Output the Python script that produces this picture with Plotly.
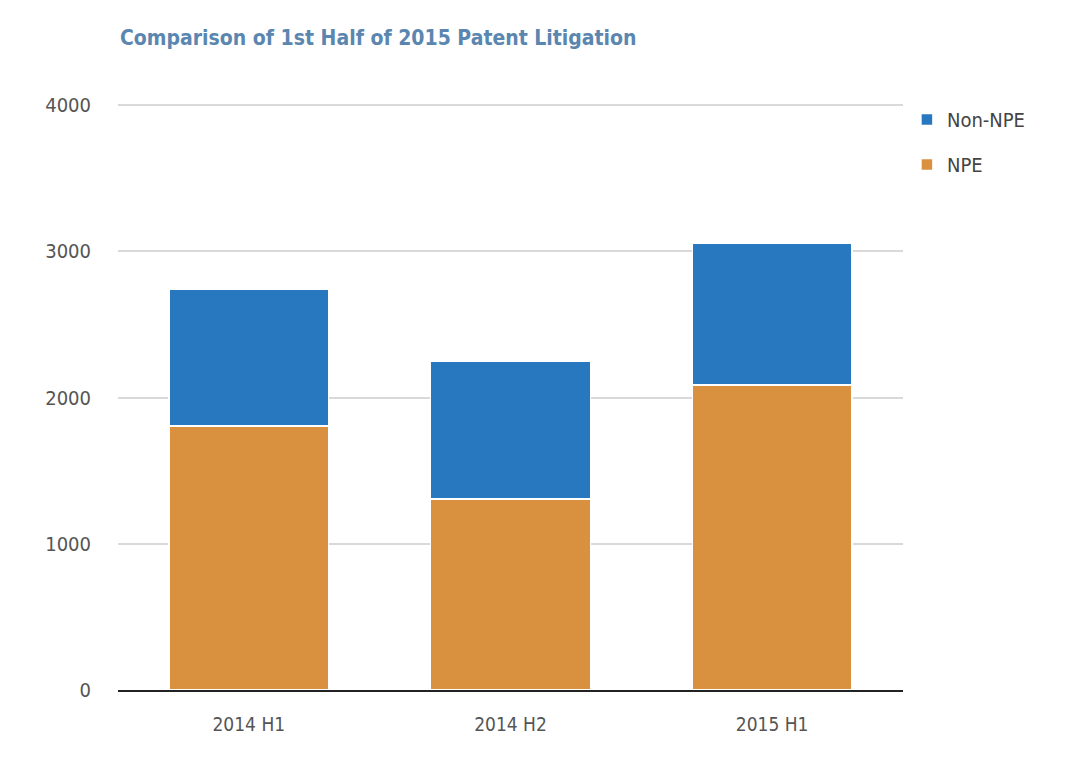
import plotly.graph_objects as go

categories = ["2014 H1", "2014 H2", "2015 H1"]
npe = [1805, 1305, 2085]
non_npe = [935, 945, 970]
y_ticks = [0, 1000, 2000, 3000, 4000]

FONT = "Liberation Sans Narrow, DejaVu Sans Condensed, Roboto, sans-serif"

fig = go.Figure()
fig.add_trace(go.Bar(
    x=categories, y=npe, name="NPE", legendgroup="npe", legendrank=2,
    marker=dict(color="#d99140", line=dict(color="white", width=1.5)),
))
fig.add_trace(go.Bar(
    x=categories, y=non_npe, name="Non-NPE", legendgroup="non", legendrank=1,
    marker=dict(color="#2878c0", line=dict(color="white", width=1.5)),
))

fig.update_layout(
    width=1073, height=776,
    barmode="stack", bargap=0.39,
    plot_bgcolor="white", paper_bgcolor="white",
    margin=dict(l=110, r=178, t=95, b=94),
    font=dict(family=FONT, color="#555555", size=17),
    title=dict(
        text="<b>Comparison of 1st Half of 2015 Patent Litigation</b>",
        x=112 / 1073, xanchor="left", xref="container",
        y=1 - 30 / 776, yanchor="middle",
        font=dict(family=FONT, size=21, color="#5b86b0"),
    ),
    legend=dict(
        x=1.005, y=1.005, xanchor="left", yanchor="top",
        traceorder="grouped", tracegroupgap=16,
        font=dict(size=20, color="#444444"),
    ),
    xaxis=dict(
        showgrid=False, showline=True, linecolor="#222222", linewidth=2,
        ticks="", ticklabelstandoff=16, tickfont=dict(size=19, color="#555555"),
    ),
    yaxis=dict(
        range=[0, 4015], tickvals=y_ticks, showgrid=True,
        gridcolor="#d9d9d9", gridwidth=1.5, zeroline=False,
        ticks="", ticklabelstandoff=26,
        tickfont=dict(size=20, color="#555555"),
    ),
)

fig.write_html("out.html")
